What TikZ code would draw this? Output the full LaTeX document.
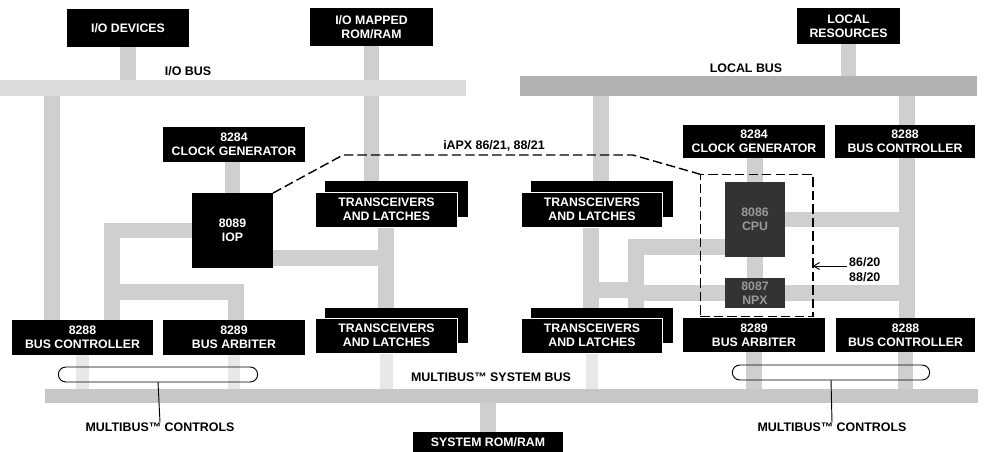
\documentclass[tikz,border=0pt]{standalone}
\usepackage{fontspec}
\setmainfont{Liberation Sans}
\usetikzlibrary{arrows.meta}
\pgfdeclarelayer{back}
\pgfdeclarelayer{bg}
\pgfsetlayers{back,bg,main}
\begin{document}
\begin{tikzpicture}[x=0.03cm,y=-0.03cm,
  bx/.style n args={4}{at={({(#1+#3)/2},{(#2+#4)/2})},
    minimum width={(#3-#1)*0.85039pt}, minimum height={(#4-#2)*0.85039pt}},
  blk/.style={fill=black,text=white,inner sep=0pt,outer sep=0pt,align=center,
    font=\bfseries\fontsize{10.5pt}{12pt}\selectfont},
  blkf/.style={blk,draw=white,line width=0.5pt},
  chip/.style={blk,fill=black!80,text=black!40},
  lbl/.style={text=black,inner sep=0pt,align=center,
    font=\bfseries\fontsize{10.6pt}{12.6pt}\selectfont},
  conn/.style={draw=black!19,line width=13.6pt},
  connf/.style={draw=black!9,line width=11pt},
  iobus/.style={draw=black!14,line width=14.5pt},
  lbus/.style={draw=black!30,line width=17.9pt},
  sbus/.style={draw=black!22,line width=11.9pt},
  dsh/.style={draw=black,line width=1.2pt,dash pattern=on 8pt off 3.5pt},
  dboxst/.style={dsh,inner sep=0pt,outer sep=0pt},
  bar/.style={draw=black,line width=0.8pt,rounded corners=6.3pt,inner sep=0pt,outer sep=0pt},
  thin/.style={draw=black,line width=0.8pt}
]
\begin{pgfonlayer}{back}
\fill[white] (0,0) rectangle (985,452);
\end{pgfonlayer}
\useasboundingbox (0,0) rectangle (985,452);

% ---- boxes ----
\node[blk,bx={67}{9}{189}{47}] (iodev) {I/O DEVICES};
\node[blk,bx={310}{8}{433}{46}] (romram) {I/O MAPPED\\ROM/RAM};
\node[blk,bx={797}{8}{900}{44}] (lr) {LOCAL\\RESOURCES};
\node[blk,bx={163}{127}{305}{162}] (clk1) {8284\\CLOCK GENERATOR};
\node[blk,bx={192}{193}{273}{268}] (iop) {8089\\IOP};
\node[blk,bx={683}{125}{825}{158}] (clk2) {8284\\CLOCK GENERATOR};
\node[blk,bx={835}{125}{975}{158}] (bc2) {8288\\BUS CONTROLLER};
\node[blk,bx={325}{181}{468}{217}] (tlb) {};
\node[blkf,bx={315}{192}{458}{227}] (tlf) {TRANSCEIVERS\\AND LATCHES};
\node[blk,bx={531}{181}{673}{217}] (trb) {};
\node[blkf,bx={521}{192}{663}{227}] (trf) {TRANSCEIVERS\\AND LATCHES};
\node[chip,bx={725}{182}{785}{257}] (cpu) {8086\\CPU};
\node[chip,bx={725}{278}{785}{308}] (npx) {8087\\NPX};
\node[blk,bx={12}{320}{153}{355}] (bc1) {8288\\BUS CONTROLLER};
\node[blk,bx={163}{320}{305}{355}] (ba1) {8289\\BUS ARBITER};
\node[blk,bx={325}{308}{468}{343}] (blb) {};
\node[blkf,bx={315}{318}{458}{353}] (blf) {TRANSCEIVERS\\AND LATCHES};
\node[blk,bx={531}{308}{673}{343}] (brb) {};
\node[blkf,bx={521}{318}{663}{353}] (brf) {TRANSCEIVERS\\AND LATCHES};
\node[blk,bx={683}{318}{825}{352}] (ba2) {8289\\BUS ARBITER};
\node[blk,bx={836}{318}{975}{352}] (bc3) {8288\\BUS CONTROLLER};
\node[blk,bx={413}{432}{563}{452}] (sysrom) {SYSTEM ROM/RAM};

% ---- labels ----
\node[lbl] (iobl) at (188,71) {I/O BUS};
\node[lbl] (lbl) at (746,68) {LOCAL BUS};
\node[lbl] (iapx) at (494,146) {iAPX 86/21, 88/21};
\node[lbl] (sbl) at (491,377) {MULTIBUS™ SYSTEM BUS};
\node[lbl] (mcL) at (160,427) {MULTIBUS™ CONTROLS};
\node[lbl] (mcR) at (832,427) {MULTIBUS™ CONTROLS};
\node[lbl,align=left,anchor=west] (l8620) at (849,270) {86/20\\88/20};

% ---- bus coordinates ----
\coordinate (iob1) at (0,88);   \coordinate (iob2) at (466,88);
\coordinate (lb1) at (520,86);  \coordinate (lb2) at (977,86);
\coordinate (sb1) at (45,396);  \coordinate (sb2) at (978,396);
\coordinate (lv) at (52,88);
\coordinate (la) at (112,231);
\coordinate (lb) at (112,292);
\coordinate (lc) at (236,292);
\coordinate (ra) at (386,258);
\coordinate (q) at (601,86);
\coordinate (v1) at (591,290);
\coordinate (v2) at (636,290);
\coordinate (v2t) at (636,247);
\coordinate (rv) at (907,86);

\begin{pgfonlayer}{bg}
\draw[conn] (iodev.south) -- (iodev.south |- iob1);
\draw[conn] (lv) -- (lv |- bc1.north);
\draw[conn] (romram.south) -- (romram.south |- tlb.north);
\draw[conn] (clk1.south -| iop.north) -- (iop.north);
\draw[conn] (iop.west) -- (iop.west -| la) -- (la |- bc1.north);
\draw[conn] (lb) -- (lc) -- (lc |- ba1.north);
\draw[conn] (iop.east |- ra) -- (ra);
\draw[conn] (ra |- tlf.south) -- (ra |- blb.north);
\draw[conn] (q) -- (q |- trb.north);
\draw[conn] (v1 |- trf.south) -- (v1 |- brb.north);
\draw[conn] (v1) -- (v2);
\draw[conn] (cpu.west |- v2t) -- (v2t) -- (v2t |- brb.north);
\draw[conn] (npx.west) -- (npx.west -| v2t);
\draw[conn] (clk2.south -| cpu.north) -- (cpu.north);
\draw[conn] (cpu.south) -- (npx.north);
\draw[conn] (lr.south) -- (lr.south |- lb1);
\draw[conn] (rv) -- (rv |- bc2.north);
\draw[conn] (rv |- bc2.south) -- (rv |- bc3.north);
\draw[conn] (cpu.east) -- (cpu.east -| rv);
\draw[conn] (npx.east) -- (npx.east -| rv);
\draw[conn] (ba2.south) -- (ba2.south |- sb1);
\draw[conn] (bc3.south) -- (bc3.south |- sb1);
\draw[connf] (bc1.south) -- (bc1.south |- sb1);
\draw[connf] (ba1.south) -- (ba1.south |- sb1);
\draw[connf] (blf.south) -- (blf.south |- sb1);
\draw[connf] (brf.south) -- (brf.south |- sb1);
\draw[conn] (sysrom.north) -- (sysrom.north |- sb1);
\draw[iobus] (iob1) -- (iob2);
\draw[lbus] (lb1) -- (lb2);
\draw[sbus] (sb1) -- (sb2);
\end{pgfonlayer}

% ---- dashed outline ----
\node[dboxst,bx={700}{174}{813}{317}] (dbox) {};
\coordinate (d1) at (343,155);
\coordinate (d2) at (633,155);
\draw[dsh] (iop.north east) -- (d1) -- (d2) -- (dbox.north west);

% ---- arrow ----
\coordinate (as) at (847,266);
\draw[thin,-{Straight Barb[length=5pt,width=6pt]}] (as) -- (as -| dbox.east);

% ---- control bars ----
\node[bar,bx={58}{367}{258}{382}] (barL) {};
\node[bar,bx={732}{365}{930}{380}] (barR) {};
\draw[thin] (barL.south) -- (mcL.north);
\draw[thin] (barR.south) -- (mcR.north);
\end{tikzpicture}
\end{document}
